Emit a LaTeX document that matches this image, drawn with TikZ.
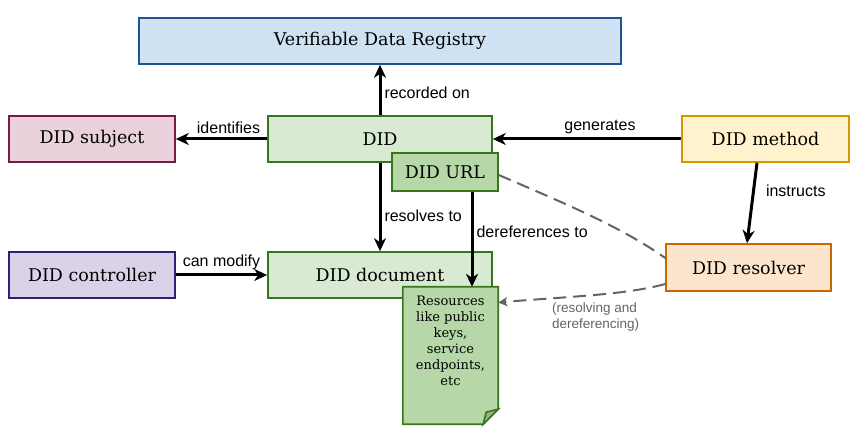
\documentclass[tikz,border=0pt]{standalone}
\usepackage{fontspec}
\setmainfont{DejaVu Serif}
\newfontfamily\labfont{Liberation Sans}
\usetikzlibrary{arrows.meta,calc}
\definecolor{vdrfill}{RGB}{207,226,243}
\definecolor{vdrline}{RGB}{30,84,150}
\definecolor{subjfill}{RGB}{234,209,220}
\definecolor{subjline}{RGB}{116,27,71}
\definecolor{didfill}{RGB}{217,234,211}
\definecolor{didline}{RGB}{56,118,29}
\definecolor{urlfill}{RGB}{182,215,168}
\definecolor{methfill}{RGB}{255,242,204}
\definecolor{methline}{RGB}{214,150,0}
\definecolor{ctrlfill}{RGB}{217,210,233}
\definecolor{ctrlline}{RGB}{53,28,117}
\definecolor{resfill}{RGB}{252,229,205}
\definecolor{resline}{RGB}{204,102,0}
\definecolor{foldfill}{RGB}{150,175,140}
\definecolor{dashgray}{RGB}{100,100,100}
\begin{document}
\begin{tikzpicture}[x=1pt,y=-1pt,
  box/.style={draw, line width=1.6pt, inner sep=0pt, font=\fontsize{17.5}{20}\selectfont},
  arr/.style={line width=3pt, -{Stealth[length=13pt,width=12pt,inset=4pt]}},
  lab/.style={font=\labfont\fontsize{16}{18}\selectfont, inner sep=1pt},
  dashconn/.style={draw=dashgray, line width=2pt, dash pattern=on 13pt off 7pt}
]
\useasboundingbox (0,0) rectangle (857,438);

\node[box, fill=vdrfill, draw=vdrline, minimum width=482pt, minimum height=46pt] (vdr) at (380,41) {Verifiable Data Registry};
\node[box, fill=subjfill, draw=subjline, minimum width=166pt, minimum height=46pt] (subj) at (92,139) {DID subject};
\node[box, fill=didfill, draw=didline, minimum width=224pt, minimum height=46pt] (did) at (380,139) {DID};
\node[box, fill=methfill, draw=methline, minimum width=167pt, minimum height=46pt] (meth) at (765.5,139) {DID method};
\node[box, fill=ctrlfill, draw=ctrlline, minimum width=166pt, minimum height=46pt] (ctrl) at (92,275) {DID controller};
\node[box, fill=didfill, draw=didline, minimum width=224pt, minimum height=46pt] (doc) at (380,275) {DID document};
\node[box, fill=resfill, draw=resline, minimum width=165pt, minimum height=47pt] (resv) at (748.5,267.5) {DID resolver};
\node[box, fill=urlfill, draw=didline, minimum width=106pt, minimum height=38pt] (url) at (445,172) {DID URL};

% resources document shape
\node[minimum width=95pt, minimum height=137pt, inner sep=0pt] (res) at (450.5,355.5) {};
\draw[fill=urlfill, draw=didline, line width=1.6pt]
  (res.north west) -- (res.north east) -- ($(res.south east)+(0,-15)$) -- ($(res.south east)+(-15,0)$) -- (res.south west) -- cycle;
\draw[fill=foldfill, draw=didline, line width=1.6pt]
  ($(res.south east)+(0,-15)$) -- ($(res.south east)+(-15,0)$) -- ($(res.south east)+(-12,-12)$) -- cycle;
\node[anchor=north, align=center, font=\fontsize{13}{16}\selectfont, inner sep=0pt] (restext) at ($(res.north)+(0,9)$) {Resources\\like public\\keys,\\service\\endpoints,\\etc};

% connectors
\draw[arr] (did.north) -- (vdr.south) node[lab, midway, right, xshift=2pt, yshift=-3pt] {recorded on};
\draw[arr] (did.west) -- (subj.east) node[lab, midway, above, yshift=3pt, xshift=7pt] {identifies};
\draw[arr] (meth.west) -- (did.east) node[lab, midway, above, yshift=3pt, xshift=13pt] {generates};
\draw[arr] (did.south) -- (doc.north) node[lab, pos=0.6, right, xshift=2pt] {resolves to};
\draw[arr] ([xshift=27pt]url.south) -- ([xshift=27pt]url.south |- res.north) node[lab, pos=0.42, right, xshift=2pt] {dereferences to};
\draw[arr] ([xshift=-8.5pt]meth.south) -- ([xshift=-1.5pt]resv.north) node[lab, pos=0.35, right, xshift=10pt] {instructs};
\draw[arr] (ctrl.east) -- (doc.west) node[lab, midway, above, yshift=3pt] {can modify};

\coordinate (d1s) at ([yshift=-3pt]url.east);
\coordinate (d1e) at ([yshift=9.5pt]resv.west);
\draw[dashconn] (d1s) .. controls ($(d1s)+(60,26)$) and ($(d1e)+(-45,-32)$) .. (d1e);
\coordinate (d2s) at ([yshift=-16.5pt]resv.west);
\coordinate (d2e) at ([yshift=53pt]res.east);
\draw[dashconn, -{Stealth[length=9pt,width=9pt,inset=2pt]}] (d2s) .. controls ($(d2s)+(-40,11)$) and ($(d2e)+(70,-6)$) .. (d2e);
\node[lab, text=dashgray, anchor=north west, align=left, font=\labfont\fontsize{13.5}{16}\selectfont] (rdlab) at (551,302) {(resolving and\\dereferencing)};
\end{tikzpicture}
\end{document}
